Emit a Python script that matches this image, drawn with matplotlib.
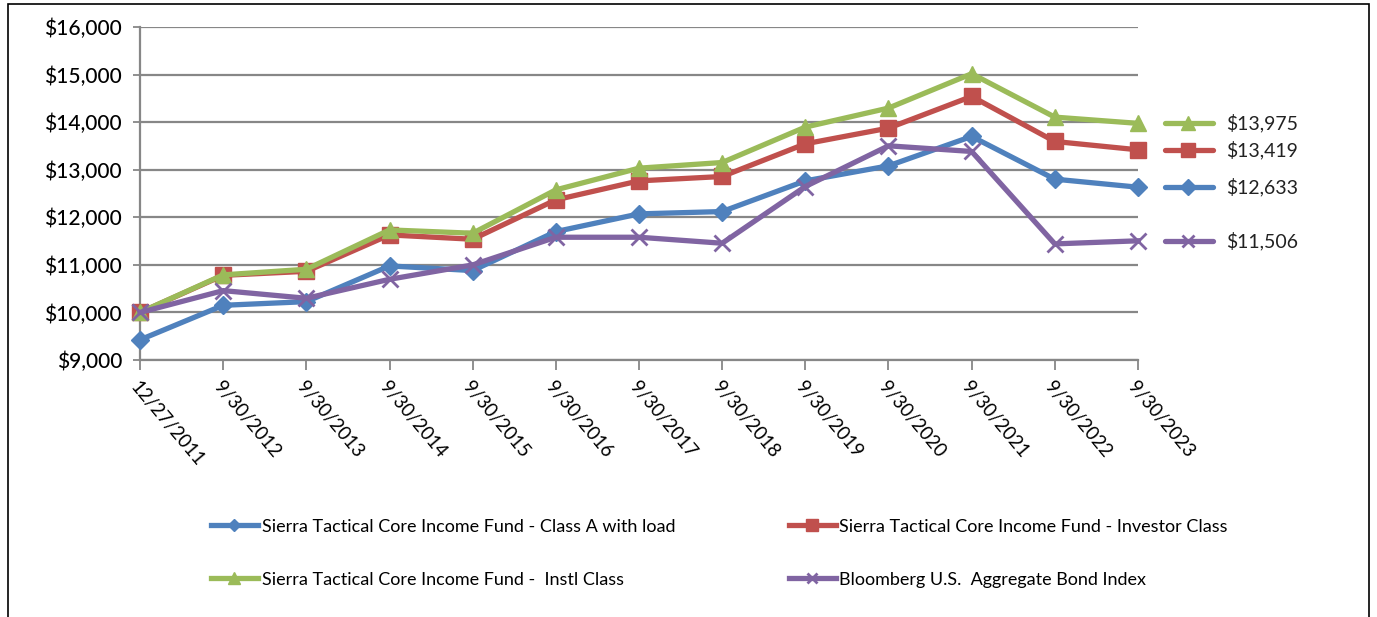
import matplotlib.pyplot as plt
from matplotlib.patches import Rectangle
from matplotlib.lines import Line2D

plt.rcParams['font.family'] = ['Lato', 'DejaVu Sans']

dates = ['12/27/2011', '9/30/2012', '9/30/2013', '9/30/2014', '9/30/2015',
         '9/30/2016', '9/30/2017', '9/30/2018', '9/30/2019', '9/30/2020',
         '9/30/2021', '9/30/2022', '9/30/2023']

class_a = [9425, 10150, 10227, 10978, 10880, 11700, 12072, 12121, 12766,
           13082, 13700, 12802, 12633]
investor = [10000, 10780, 10865, 11630, 11539, 12367, 12766, 12858, 13545,
            13875, 14541, 13594, 13419]
instl = [10000, 10790, 10908, 11735, 11665, 12577, 13033, 13152, 13896,
         14296, 15018, 14106, 13975]
bond_index = [10000, 10459, 10298, 10697, 10999, 11581, 11581, 11455, 12647,
              13503, 13384, 11441, 11506]

names = ['Sierra Tactical Core Income Fund - Class A with load',
         'Sierra Tactical Core Income Fund - Investor Class',
         'Sierra Tactical Core Income Fund -  Instl Class',
         'Bloomberg U.S.  Aggregate Bond Index']

colors = ['#4F81BD', '#C0504D', '#9BBB59', '#8064A2']
markers = ['D', 's', '^', 'x']
msizes = [9, 12, 12, 11]

fig = plt.figure(figsize=(13.77, 6.17), dpi=100)
ax = fig.add_axes([0.1017, 0.4165, 0.7247, 0.5397])

x = list(range(len(dates)))
series = [class_a, investor, instl, bond_index]
for vals, name, c, m, ms in zip(series, names, colors, markers, msizes):
    mew = 2 if m == 'x' else 1
    ax.plot(x, vals, color=c, lw=3.8, marker=m, ms=ms, mew=mew,
            mec=c, mfc=c, label=name, clip_on=False, zorder=3)
    # end value label at the right
    last = vals[-1]
    ax.plot([12.33, 12.9], [last, last], color=c, lw=3.8, clip_on=False,
            solid_capstyle='round', zorder=3)
    ax.plot([12.6], [last], marker=m, ms=ms * 0.85, mew=mew, color=c,
            clip_on=False, zorder=3)
    ax.text(13.06, last, '${:,.0f}'.format(last), fontsize=14,
            va='center', ha='left', color='#222222')

ax.set_xlim(0, 12)
ax.set_ylim(9000, 16000)
ax.set_yticks(range(9000, 16001, 1000))
ax.set_yticklabels(['${:,}'.format(v) for v in range(9000, 16001, 1000)],
                   fontsize=15, fontweight='medium')
ax.set_xticks(x)
ax.set_xticklabels(dates, rotation=-50, ha='left', va='top',
                   rotation_mode='anchor', fontsize=13.5)

ax.grid(axis='y', color='#878787', lw=1.6)
ax.set_axisbelow(True)
for s in ['top', 'right']:
    ax.spines[s].set_visible(False)
for s in ['left', 'bottom']:
    ax.spines[s].set_color('#878787')
    ax.spines[s].set_linewidth(1.6)
ax.tick_params(axis='x', length=7, width=1.3, color='#878787', pad=6)
ax.tick_params(axis='y', length=5, width=1.3, color='#878787', pad=8)

order = [0, 2, 1, 3]
leg_handles = [Line2D([], [], color=colors[i], lw=3.8, marker=markers[i],
                      ms=msizes[i] * 0.7, mew=2 if markers[i] == 'x' else 1)
               for i in order]
fig.legend(leg_handles, [names[i] for i in order], ncol=2,
           loc='upper left', bbox_to_anchor=(0.148, 0.171), frameon=False,
           fontsize=13, handlelength=2.6, handletextpad=0.2,
           labelspacing=2.05, columnspacing=6.3, borderaxespad=0)

fig.patches.append(Rectangle((0.006, -0.05), 0.988, 1.043,
                             transform=fig.transFigure, fill=False,
                             edgecolor='black', lw=1.2))

fig.savefig('out.png', dpi=100)
